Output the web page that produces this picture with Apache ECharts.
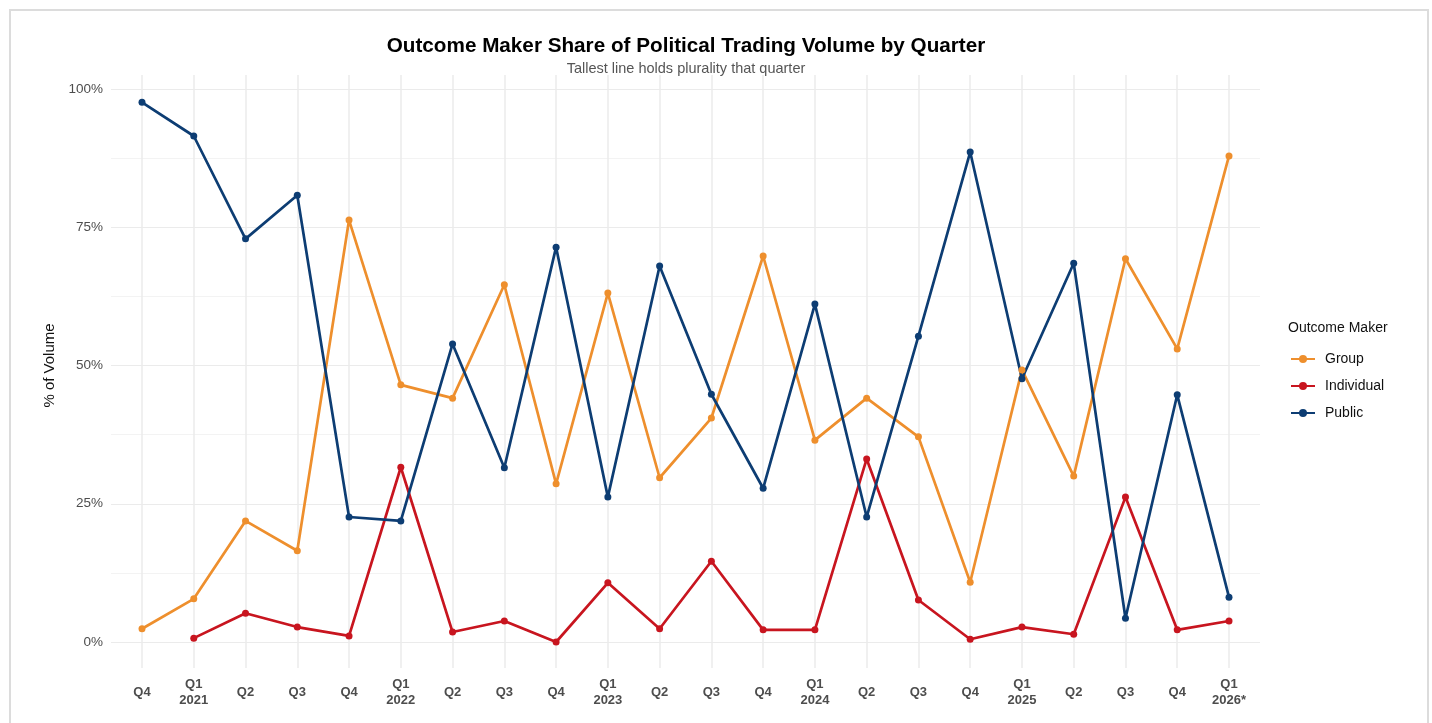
<!DOCTYPE html>
<html>
<head>
<meta charset="utf-8">
<script src="https://cdn.jsdelivr.net/npm/echarts@6/dist/echarts.min.js"></script>
<style>
  html, body { margin: 0; padding: 0; background: #fff; }
  #chart { width: 1432px; height: 723px; }
  #frame { position: absolute; left: 9px; top: 9px; width: 1416px; height: 740px;
           border: 2px solid #dcdcdc; pointer-events: none; }
</style>
</head>
<body>
<div id="chart"></div>
<div id="frame"></div>
<script>
// quarters, Q4 2020 .. Q1 2026 (partial)
const quarters = ['Q4', 'Q1\n2021', 'Q2', 'Q3', 'Q4', 'Q1\n2022', 'Q2', 'Q3', 'Q4',
  'Q1\n2023', 'Q2', 'Q3', 'Q4', 'Q1\n2024', 'Q2', 'Q3', 'Q4',
  'Q1\n2025', 'Q2', 'Q3', 'Q4', 'Q1\n2026*'];

// share of volume, %
const groupShare = [2.4, 7.8, 21.9, 16.5, 76.3, 46.5, 44.1, 64.6, 28.6,
  63.1, 29.7, 40.5, 69.8, 36.5, 44.1, 37.1, 10.8,
  49.2, 30.0, 69.3, 53.0, 87.9];
const individualShare = ['-', 0.7, 5.2, 2.7, 1.1, 31.6, 1.8, 3.8, 0.0,
  10.7, 2.4, 14.6, 2.2, 2.2, 33.1, 7.6, 0.5,
  2.7, 1.4, 26.2, 2.2, 3.8];
const publicShare = [97.6, 91.5, 72.9, 80.8, 22.6, 21.9, 53.9, 31.5, 71.4,
  26.2, 68.0, 44.8, 27.8, 61.1, 22.6, 55.3, 88.6,
  47.6, 68.5, 4.3, 44.7, 8.1];

const yTicks = [0, 12.5, 25, 37.5, 50, 62.5, 75, 87.5, 100];

const colors = { Group: '#EE8F2D', Individual: '#C8151F', Public: '#0D3D73' };
const font = 'Liberation Sans, Arial, sans-serif';

const chart = echarts.init(document.getElementById('chart'));

function lineSeries(name, data) {
  return {
    name: name,
    type: 'line',
    xAxisIndex: 0,
    yAxisIndex: 0,
    data: data,
    symbol: 'circle',
    symbolSize: 7,
    showSymbol: true,
    connectNulls: false,
    lineStyle: { width: 2.7, color: colors[name] },
    itemStyle: { color: colors[name] },
    emphasis: { disabled: true },
    z: 5
  };
}

const option = {
  animation: false,
  textStyle: { fontFamily: font },
  title: [
    {
      text: 'Outcome Maker Share of Political Trading Volume by Quarter',
      left: 681, top: 31, textAlign: 'center',
      textStyle: { fontSize: 20.7, fontWeight: 'bold', color: '#000', fontFamily: font }
    },
    {
      text: 'Tallest line holds plurality that quarter',
      left: 681, top: 56, textAlign: 'center',
      textStyle: { fontSize: 14.5, fontWeight: 'normal', color: '#555', fontFamily: font }
    },
    {
      text: 'Outcome Maker',
      left: 1283, top: 316,
      textStyle: { fontSize: 14, fontWeight: 'normal', color: '#111', fontFamily: font }
    }
  ],
  legend: {
    orient: 'vertical',
    left: 1285, top: 347,
    itemWidth: 24, itemHeight: 10, itemGap: 13,
    data: ['Group', 'Individual', 'Public'],
    textStyle: { fontSize: 14, color: '#111', fontFamily: font, padding: [0, 0, 0, 5] },
    selectedMode: false
  },
  grid: [
    // data area: first/last category at the edges
    { left: 142, right: 203, top: 89, bottom: 81 },
    // background panel: horizontal grid lines + y labels
    { left: 111, right: 172, top: 89, bottom: 81 },
    // vertical grid lines + x labels
    { left: 142, right: 203, top: 75, bottom: 55 }
  ],
  xAxis: [
    { gridIndex: 0, type: 'category', data: quarters, boundaryGap: false, show: false },
    { gridIndex: 1, type: 'value', min: 0, max: 1, show: false },
    {
      gridIndex: 2, type: 'category', data: quarters, boundaryGap: false,
      axisLine: { show: false }, axisTick: { show: false },
      axisLabel: {
        interval: 0, margin: 24, verticalAlign: 'middle', lineHeight: 16,
        fontSize: 13, fontWeight: 'bold', color: '#4d4d4d', fontFamily: font
      },
      splitLine: { show: true, lineStyle: { color: '#ebebeb', width: 1.5 } }
    }
  ],
  yAxis: [
    { gridIndex: 0, type: 'value', min: 0, max: 100, show: false },
    {
      gridIndex: 1, type: 'value', min: 0, max: 100, interval: 12.5,
      name: '% of Volume', nameLocation: 'middle', nameGap: 54, nameRotate: 90,
      nameTextStyle: { fontSize: 15, color: '#111', fontFamily: font },
      axisLine: { show: false }, axisTick: { show: false },
      axisLabel: {
        margin: 8, fontSize: 13.5, color: '#4d4d4d', fontFamily: font,
        formatter: v => (v % 25 === 0 ? v + '%' : '')
      },
      splitLine: {
        show: true,
        lineStyle: { color: yTicks.map(v => (v % 25 === 0 ? '#ebebeb' : '#f3f3f3')), width: 1.2 }
      }
    },
    { gridIndex: 2, type: 'value', min: 0, max: 1, show: false }
  ],
  series: [
    lineSeries('Group', groupShare),
    lineSeries('Individual', individualShare),
    lineSeries('Public', publicShare)
  ]
};

chart.setOption(option);
</script>
</body>
</html>
